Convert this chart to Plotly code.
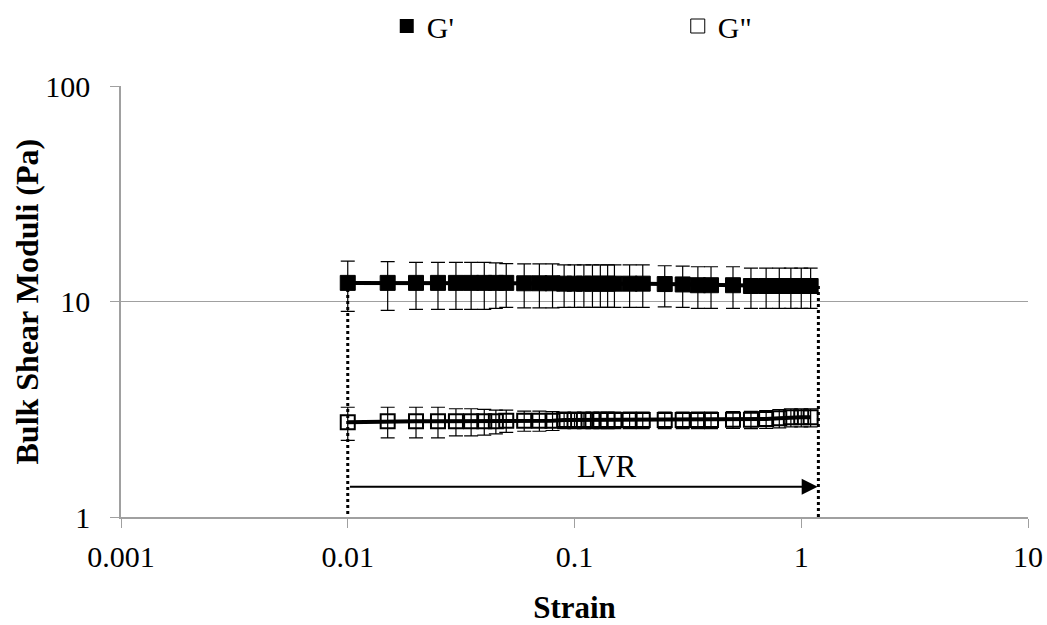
import math
import plotly.graph_objects as go

strain = [0.01, 0.015, 0.02, 0.025, 0.03, 0.035, 0.04, 0.045, 0.05, 0.06, 0.07, 0.08,
          0.09, 0.1, 0.11, 0.12, 0.13, 0.14, 0.15, 0.175, 0.2, 0.25, 0.3, 0.35, 0.4,
          0.5, 0.6, 0.7, 0.8, 0.9, 1.0, 1.1]
g_prime = [12.2, 12.2, 12.2, 12.2, 12.2, 12.2, 12.2, 12.2, 12.2, 12.15, 12.15, 12.15,
           12.1, 12.1, 12.1, 12.1, 12.1, 12.1, 12.1, 12.1, 12.1, 12.05, 12.0, 11.9, 11.9,
           11.9, 11.8, 11.8, 11.8, 11.8, 11.8, 11.8]
g_prime_err = [3.2, 3.1, 3.0, 3.0, 3.0, 3.0, 3.0, 2.9, 2.8, 2.8, 2.8, 2.8,
               2.7, 2.7, 2.7, 2.7, 2.7, 2.7, 2.7, 2.7, 2.7, 2.6, 2.6, 2.6, 2.6,
               2.6, 2.5, 2.5, 2.5, 2.5, 2.5, 2.5]
g_dprime = [2.75, 2.78, 2.78, 2.78, 2.78, 2.78, 2.78, 2.78, 2.8, 2.8, 2.8, 2.8,
            2.82, 2.82, 2.82, 2.82, 2.82, 2.82, 2.82, 2.82, 2.82, 2.82, 2.82, 2.82, 2.82,
            2.83, 2.83, 2.85, 2.87, 2.9, 2.9, 2.9]
g_dprime_err = [0.48, 0.45, 0.45, 0.45, 0.4, 0.4, 0.38, 0.35, 0.33, 0.3, 0.3, 0.28,
                0.25, 0.25, 0.25, 0.25, 0.25, 0.25, 0.25, 0.25, 0.25, 0.25, 0.25, 0.25, 0.25,
                0.25, 0.26, 0.27, 0.28, 0.28, 0.28, 0.28]

lvr_start = 0.01
lvr_end = 1.19
lvr_arrow_y = 1.38
lvr_label = "LVR"
lvr_label_x = 0.138
lvr_label_y = 1.71

x_ticks = [0.001, 0.01, 0.1, 1, 10]
x_tick_text = ["0.001", "0.01", "0.1", "1", "10"]
y_ticks = [1, 10, 100]
y_tick_text = ["1", "10", "100"]

FONT = "Liberation Serif"

fig = go.Figure()

# dotted LVR boundaries
fig.add_trace(go.Scatter(x=[lvr_start, lvr_start], y=[g_prime[0], 1], mode="lines",
                         line=dict(color="black", width=3, dash="dot"),
                         showlegend=False, hoverinfo="skip"))
fig.add_trace(go.Scatter(x=[lvr_end, lvr_end], y=[g_prime[-1], 1], mode="lines",
                         line=dict(color="black", width=3, dash="dot"),
                         showlegend=False, hoverinfo="skip"))

fig.add_trace(go.Scatter(
    x=strain, y=g_prime, mode="lines+markers", name="G'", showlegend=False,
    line=dict(color="black", width=4),
    marker=dict(symbol="square", size=15, color="black", line=dict(color="black", width=1)),
    error_y=dict(type="data", array=g_prime_err, color="black", thickness=1.2, width=7),
))
fig.add_trace(go.Scatter(
    x=strain, y=g_dprime, mode="lines+markers", name='G"', showlegend=False,
    line=dict(color="black", width=4),
    marker=dict(symbol="square-open", size=14, color="black", line=dict(color="black", width=2)),
    error_y=dict(type="data", array=g_dprime_err, color="black", thickness=1.2, width=7),
))

# legend-only entries
fig.add_trace(go.Scatter(x=[None], y=[None], mode="markers", name="G'",
                         marker=dict(symbol="square", size=14, color="black")))
fig.add_trace(go.Scatter(x=[None], y=[None], mode="markers", name='G"',
                         marker=dict(symbol="square-open", size=14, color="black",
                                     line=dict(color="black", width=1))))

fig.add_annotation(x=math.log10(lvr_end) - 0.003, y=math.log10(lvr_arrow_y),
                   ax=math.log10(lvr_start) + 0.003, ay=math.log10(lvr_arrow_y),
                   xref="x", yref="y", axref="x", ayref="y", text="", showarrow=True,
                   arrowhead=2, arrowsize=1.6, arrowwidth=2, arrowcolor="black")
fig.add_annotation(x=math.log10(lvr_label_x), y=math.log10(lvr_label_y), xref="x", yref="y",
                   text=lvr_label, showarrow=False,
                   font=dict(family=FONT, size=31, color="black"))
# y-axis title
fig.add_annotation(x=-95 / 907, y=0.5, xref="paper", yref="paper", xanchor="center",
                   yanchor="middle", textangle=-90, showarrow=False,
                   text="<b>Bulk Shear Moduli (Pa)</b>",
                   font=dict(family=FONT, size=32, color="black"))

fig.update_layout(
    width=1047, height=625,
    margin=dict(l=121, r=19, t=86, b=108),
    paper_bgcolor="white", plot_bgcolor="white",
    font=dict(family=FONT, size=30, color="black"),
    legend=dict(orientation="h", x=0.293, y=1.0, xref="paper", yref="container",
                yanchor="top", xanchor="left", entrywidth=246,
                font=dict(family=FONT, size=30, color="black"), itemwidth=30),
    xaxis=dict(type="log", range=[-3, 1], tickvals=x_ticks, ticktext=x_tick_text,
               showgrid=False, showline=True, linecolor="#a0a0a0", linewidth=1.5,
               ticks="outside", ticklen=9, tickcolor="#a0a0a0", ticklabelstandoff=3,
               title=dict(text="<b>Strain</b>", font=dict(family=FONT, size=31), standoff=27),
               zeroline=False, automargin=False),
    yaxis=dict(type="log", range=[0, 2], tickvals=y_ticks, ticktext=y_tick_text,
               showgrid=True, gridcolor="#a0a0a0", gridwidth=1.2,
               showline=True, linecolor="#a0a0a0", linewidth=1.5,
               ticks="outside", ticklen=9, tickcolor="#a0a0a0", ticklabelstandoff=14,
               zeroline=False, automargin=False),
)

fig.write_html("out.html")
